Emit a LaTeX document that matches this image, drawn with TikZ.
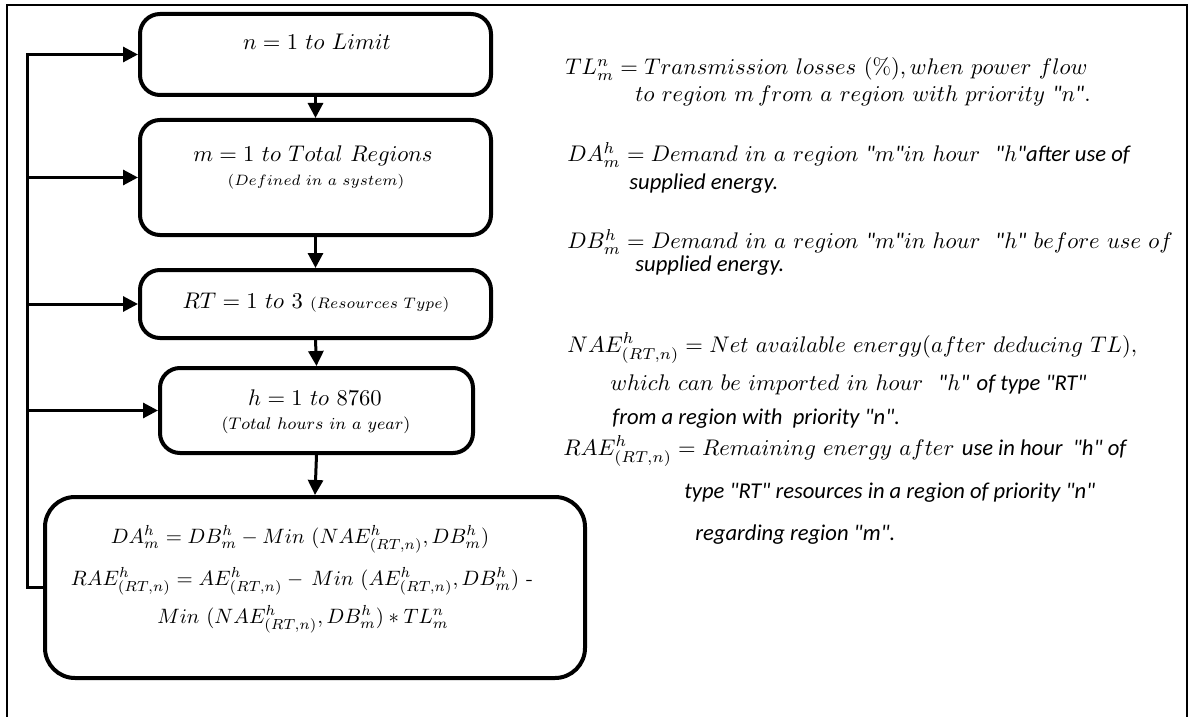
\RequirePackage{fix-cm}
\documentclass[tikz,border=0pt]{standalone}
\usepackage{amsmath}
\usepackage{fontspec}
\newfontfamily\calib{Carlito}
\usetikzlibrary{arrows.meta}

% straight double quote inside math
\newcommand\dq{\text{\calib\itshape"}}
% narrow italic text
\newcommand\ct[1]{{\calib\itshape #1}}

\tikzset{
  box/.style={draw, line width=2pt, rounded corners=10pt, inner sep=0pt},
  conn/.style={line width=1.5pt, -{Triangle[length=7.5pt,width=7.5pt]}},
  txt/.style={inner sep=0pt, anchor=base west, font=\fontsize{11.3}{13}\selectfont},
  ctxt/.style={inner sep=0pt, anchor=base, font=\fontsize{11.3}{13}\selectfont},
  ftxt/.style={inner sep=0pt, anchor=base, font=\fontsize{10.4}{12}\selectfont},
  small/.style={inner sep=0pt, anchor=base, font=\fontsize{7.5}{9}\selectfont},
}

\begin{document}
\begin{tikzpicture}[x=0.5pt,y=-0.5pt]
\useasboundingbox (0,0) rectangle (1189,717);

% outer frame (open at the bottom)
\draw[line width=0.6pt] (7,717) -- (7,5) -- (1187,5) -- (1187,717);

% loop boxes
\node[box, minimum width=175.5pt, minimum height=40.5pt] (b1) at (315.5,54.5) {};
\node[box, minimum width=175.5pt, minimum height=57.5pt] (b2) at (315.5,177.5) {};
\node[box, minimum width=175.5pt, minimum height=34pt]   (b3) at (315.5,304) {};
\node[box, minimum width=156.5pt, minimum height=42.5pt] (b4) at (316.5,410.5) {};
\node[box, rounded corners=15pt, minimum width=270pt, minimum height=90.5pt] (b5) at (315,587.5) {};

% box texts
\node[ctxt] (t1) at (317,50) {$n = 1\ to\ Limit$};
\node[ctxt] (t2) at (313,162) {$m = 1\ to\ Total\ Regions$};
\node[small] (t2s) at (316,185) {$(Defined\ in\ a\ system)$};
\node[ctxt] (t3) at (316,308) {$RT = 1\ to\ 3$ {\fontsize{7.6}{9}\selectfont$(Resources\ Type)$}};
\node[ctxt] (t4) at (315,405) {$h = 1\ to\ 8760$};
\node[small, font=\fontsize{8.4}{10}\selectfont] (t4s) at (316,429) {$(Total\ hours\ in\ a\ year)$};

\node[ftxt] (f1) at (300,543) {$DA^h_m = DB^h_m - Min\ (NAE^h_{(RT,n)}, DB^h_m)$};
\node[ftxt] (f2) at (302,585) {$RAE^h_{(RT,n)} = AE^h_{(RT,n)} -\,Min\ (AE^h_{(RT,n)}, DB^h_m)$ -};
\node[ftxt] (f3) at (303,623) {$Min\ (NAE^h_{(RT,n)}, DB^h_m) * TL^n_m$};

% flow arrows
\draw[conn] (b1.south) -- (b2.north);
\draw[conn] (b2.south) -- (b3.north);
\draw[conn] (b3.south) -- (b4.north);
\draw[conn] (b4.south) -- (b5.north);

% feedback loop
\draw[conn] (b5.west) -- ++(-16,0) coordinate (lp) |- (b1.west);
\draw[conn] (lp |- b2.west) -- (b2.west);
\draw[conn] (lp |- b3.west) -- (b3.west);
\draw[conn] (lp |- b4.west) -- (b4.west);

% definitions
\node[txt] (d1a) at (565,75)  {$TL^n_m = Transmission\ losses\ (\%), when\ power\ flow$};
\node[txt] (d1b) at (635,102) {$to\ region\ m\,from\ a\ region\ with\ priority\ \dq n\dq.$};

\node[txt] (d2a) at (567,162) {$DA^h_m = Demand\ in\ a\ region\ \dq m\dq in\ hour\ \ \dq h\dq$\ct{after use of}};
\node[txt] (d2b) at (629,190) {\ct{supplied energy.}};

\node[txt] (d3a) at (567,249) {$DB^h_m = Demand\ in\ a\ region\ \dq m\dq in\ hour\ \ \dq h\dq\ before\ use\ of$};
\node[txt] (d3b) at (635,271) {\ct{supplied energy.}};

\node[txt] (d4a) at (567,352) {$NAE^h_{(RT,n)} = Net\ available\ energy(after\ deducing\ TL),$};
\node[txt] (d4b) at (610,390) {$which\ can\ be\ imported\ in\ hour\ \ \dq h\dq$ \ct{of type "RT"}};
\node[txt] (d4c) at (612,424) {\ct{from a region with\ \ priority "n".}};

\node[txt] (d5a) at (563,455) {$RAE^h_{(RT,n)} = Remaining\ energy\ after$ \ct{use in hour\ \ "h" of}};
\node[txt] (d5b) at (684,498) {\ct{type "RT" resources in a region of priority "n"}};
\node[txt] (d5c) at (695,540) {\ct{regarding region "m".}};
\end{tikzpicture}
\end{document}
